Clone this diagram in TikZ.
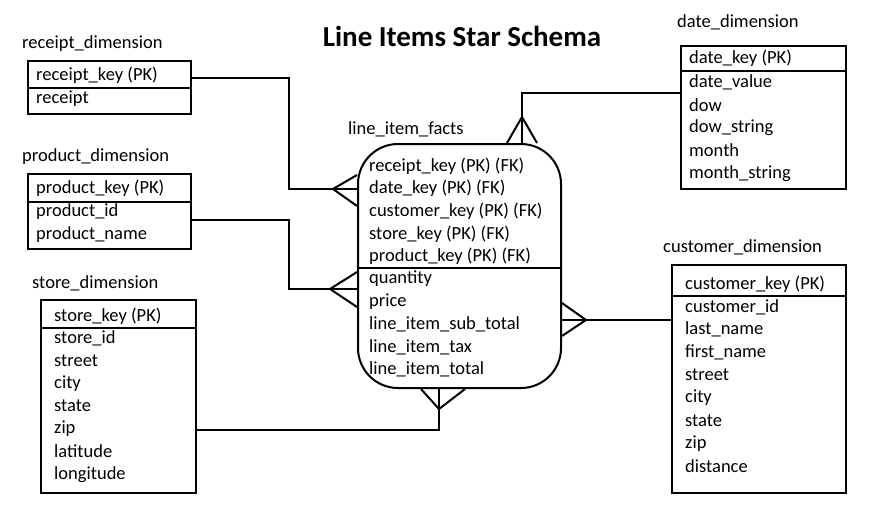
\documentclass[tikz,border=0pt]{standalone}
\usepackage{fontspec}
\setmainfont{Carlito}
\usepackage{tikz}
\usetikzlibrary{positioning}

\begin{document}
\begin{tikzpicture}[x=1pt,y=-1pt,
  tbl/.style={rectangle,draw=black,line width=2pt,anchor=north west,inner sep=0pt},
  fact/.style={rectangle,rounded corners=40pt,draw=black,line width=2pt,anchor=north west,inner sep=0pt},
  field/.style={anchor=west,inner sep=0pt,font=\fontsize{18.5}{22}\selectfont},
  title/.style={anchor=west,inner sep=0pt,font=\fontsize{18.5}{22}\selectfont},
  divider/.style={line width=2pt},
  link/.style={line width=2pt}]
\useasboundingbox (0,0) rectangle (874,515);
\node[inner sep=0pt,font=\fontsize{29}{34}\selectfont\bfseries] (heading) at (462,36) {Line Items Star Schema};

% dimension tables
\node[tbl,minimum width=163pt,minimum height=53pt] (receipt) at (27,60) {};
\node[title] (receiptname) at (22,44) {receipt\_dimension};
\draw[divider] ([yshift=-28pt]receipt.north west) -- ([yshift=-28pt]receipt.north east);
\node[field] (rkey) at (36,75) {receipt\_key (PK)};
\node[field] (rrow) at (36,99) {receipt};

\node[tbl,minimum width=163pt,minimum height=75pt] (product) at (27,173) {};
\node[title] (productname) at (22,157) {product\_dimension};
\draw[divider] ([yshift=-29pt]product.north west) -- ([yshift=-29pt]product.north east);
\node[field] (pkey) at (36,188) {product\_key (PK)};
\foreach \t [count=\i] in {product\_id,product\_name}
  \node[field] (prow\i) at (36,212+22.5*\i-22.5) {\t};

\node[tbl,minimum width=155pt,minimum height=193pt] (store) at (40,299) {};
\node[title] (storename) at (32,283) {store\_dimension};
\draw[divider] ([yshift=-29pt]store.north west) -- ([yshift=-29pt]store.north east);
\node[field] (skey) at (54,316) {store\_key (PK)};
\foreach \t [count=\i] in {store\_id,street,city,state,zip,latitude,longitude}
  \node[field] (srow\i) at (54,338+22.7*\i-22.7) {\t};

\node[tbl,minimum width=165pt,minimum height=143pt] (date) at (680,45) {};
\node[title] (datename) at (677,22) {date\_dimension};
\draw[divider] ([yshift=-26pt]date.north west) -- ([yshift=-26pt]date.north east);
\node[field] (dkey) at (689,58) {date\_key (PK)};
\foreach \t [count=\i] in {date\_value,dow,dow\_string,month,month\_string}
  \node[field] (drow\i) at (689,82+22.8*\i-22.8) {\t};

\node[tbl,minimum width=174pt,minimum height=228pt] (customer) at (671,264) {};
\node[title] (customername) at (663,247) {customer\_dimension};
\draw[divider] ([yshift=-32pt]customer.north west) -- ([yshift=-32pt]customer.north east);
\node[field] (ckey) at (685,284) {customer\_key (PK)};
\foreach \t [count=\i] in {customer\_id,last\_name,first\_name,street,city,state,zip,distance}
  \node[field] (crow\i) at (685,307+22.7*\i-22.7) {\t};

% fact table
\node[fact,minimum width=203pt,minimum height=244pt] (facts) at (357,143) {};
\node[title] (factsname) at (348,129) {line\_item\_facts};
\draw[divider] ([yshift=-125pt]facts.north west) -- ([yshift=-125pt]facts.north east);
\foreach \t [count=\i] in {receipt\_key (PK) (FK),date\_key (PK) (FK),customer\_key (PK) (FK),store\_key (PK) (FK),product\_key (PK) (FK)}
  \node[field] (fkey\i) at (369,166+22.6*\i-22.6) {\t};
\foreach \t [count=\i] in {quantity,price,line\_item\_sub\_total,line\_item\_tax,line\_item\_total}
  \node[field] (frow\i) at (369,279+22.7*\i-22.7) {\t};

% connectors with crow's feet
\draw[link] ([yshift=-18pt]receipt.north east) -- ++(97,0) |- ([yshift=-46pt]facts.north west);
\draw[link] ([yshift=-32pt]facts.north west) -- ([xshift=-24pt,yshift=-46pt]facts.north west) -- ([yshift=-63pt]facts.north west);

\draw[link] ([yshift=-47pt]product.north east) -- ++(97,0) |- ([yshift=-146pt]facts.north west);
\draw[link] ([yshift=-129pt]facts.north west) -- ([xshift=-27pt,yshift=-146pt]facts.north west) -- ([yshift=-164pt]facts.north west);

\draw[link] ([yshift=-48pt]date.north west) -| ([xshift=165pt]facts.north west);
\draw[link] ([xshift=150pt]facts.north west) -- ([xshift=165pt,yshift=26pt]facts.north west) -- ([xshift=180pt]facts.north west);

\draw[link] ([yshift=-177pt]facts.north east) -- ([yshift=-56pt]customer.north west);
\draw[link] ([yshift=-160pt]facts.north east) -- ([xshift=24pt,yshift=-177pt]facts.north east) -- ([yshift=-193pt]facts.north east);

\draw[link] ([yshift=-131pt]store.north east) -| ([xshift=82pt]facts.south west);
\draw[link] ([xshift=64pt]facts.south west) -- ([xshift=82pt,yshift=-20pt]facts.south west) -- ([xshift=108pt]facts.south west);
\end{tikzpicture}
\end{document}
